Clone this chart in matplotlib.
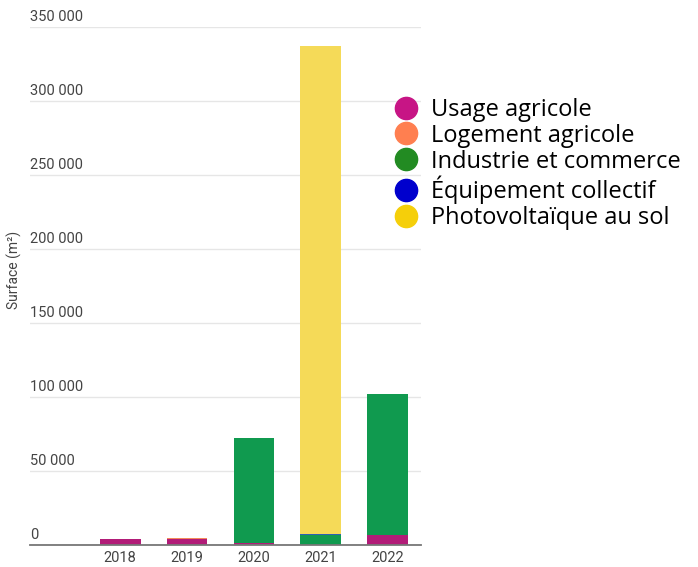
import matplotlib
matplotlib.use("Agg")
import matplotlib.pyplot as plt
from matplotlib.lines import Line2D
import matplotlib.transforms as mtransforms
import numpy as np

years = ["2018", "2019", "2020", "2021", "2022"]
categories = ["Usage agricole", "Logement agricole", "Industrie et commerce",
              "Équipement collectif", "Photovoltaïque au sol"]
usage_agricole = [4300, 4000, 1500, 0, 6500]
logement_agricole = [0, 700, 0, 0, 0]
industrie_commerce = [0, 0, 70800, 7000, 95500]
equipement_collectif = [0, 0, 0, 600, 0]
photovoltaique = [0, 0, 0, 329600, 0]
yticks = [0, 50000, 100000, 150000, 200000, 250000, 300000, 350000]

series = [usage_agricole, logement_agricole, industrie_commerce,
          equipement_collectif, photovoltaique]
bar_colors = ["#b21c78", "#f4895a", "#109a4f", "#2d5fb4", "#f5da58"]
legend_colors = ["#c71585", "#ff7f50", "#228b22", "#0000cd", "#f5cf0a"]

fig = plt.figure(figsize=(6.98, 5.67), dpi=100)
ax = fig.add_axes([30 / 698, 1 - 545 / 567, (421 - 30) / 698, (545 - 27) / 567])

x = np.arange(len(years))
bottom = np.zeros(len(years))
for vals, col in zip(series, bar_colors):
    vals = np.array(vals, dtype=float)
    ax.bar(x, vals, 0.61, bottom=bottom, color=col, zorder=2)
    bottom += vals

ax.set_xlim(-1.35, 4.5)
ax.set_ylim(0, 350000)
ax.set_yticks(yticks)
ax.yaxis.grid(True, color="#e6e6e6", lw=1, zorder=0)
ax.tick_params(axis="y", length=0, labelleft=False)
ax.tick_params(axis="x", length=0, pad=4, labelsize=10.5, labelcolor="#444444")
ax.set_xticks(x)
ax.set_xticklabels(years, family="Roboto")
for s in ["top", "right", "left"]:
    ax.spines[s].set_visible(False)
ax.spines["bottom"].set_color("#777777")
ax.spines["bottom"].set_linewidth(1.3)

# value labels sit just above their grid line, flush with the left edge
trans = mtransforms.blended_transform_factory(ax.transAxes, ax.transData)
for v in yticks:
    ax.text(0.0, v + 2000, f"{v:,}".replace(",", " "), transform=trans,
            ha="left", va="bottom", fontsize=10.5, color="#444444", family="Roboto")

fig.text(14 / 698, 1 - 270 / 567, "Surface (m²)", rotation=90, ha="center",
         va="center", fontsize=10, color="#444444", family="Roboto")

handles = [Line2D([], [], marker="o", ls="", markersize=16, color=c)
           for c in legend_colors]
fig.legend(handles, categories, loc="upper left", bbox_to_anchor=(381 / 698, 1 - 86 / 567),
           frameon=False, handletextpad=0.5, labelspacing=0.08,
           handlelength=1.1, borderpad=0, prop={"family": "Open Sans", "size": 17})

fig.savefig("out.png", dpi=100)
